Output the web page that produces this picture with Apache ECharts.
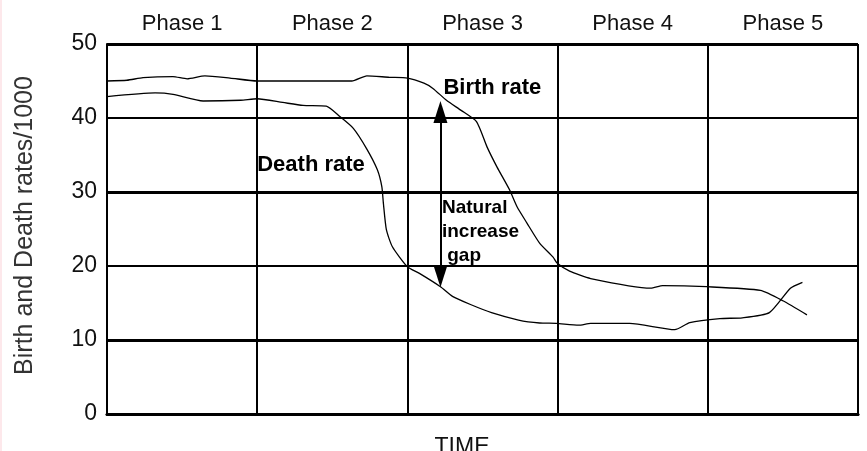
<!DOCTYPE html>
<html>
<head>
<meta charset="utf-8">
<script src="https://cdn.jsdelivr.net/npm/echarts@6/dist/echarts.min.js"></script>
<style>
  html, body { margin: 0; padding: 0; background: linear-gradient(to right, #fde8eb 0, #fde8eb 2px, #ffffff 2px); }
  #chart { width: 867px; height: 451px; }
</style>
</head>
<body>
<div id="chart"></div>
<script>
// Phase labels (top axis)
const phases = ['Phase 1', 'Phase 2', 'Phase 3', 'Phase 4', 'Phase 5'];

// Time position (each phase spans 10 units)
const birthTime = [0, 1.33, 2.4, 4.39, 5.33, 6.52, 8.19, 10.0, 16.3, 17.3, 18.8, 20.0, 21.1, 21.7, 22.6, 23.6, 24.6, 25.3, 25.96, 26.8, 27.3, 27.96, 28.8, 29.7, 29.96, 30.8, 32.2, 36.2, 37.0, 39.9, 43.5, 45.0, 46.6];
const birthRate = [45.0, 45.1, 45.45, 45.6, 45.3, 45.7, 45.4, 45.0, 45.0, 45.7, 45.5, 45.4, 44.7, 44.0, 42.4, 41.0, 39.5, 36.1, 33.4, 30.3, 28.0, 25.8, 23.1, 21.2, 20.4, 19.3, 18.3, 17.0, 17.35, 17.2, 16.7, 15.3, 13.4];

const deathTime = [0, 3.2, 4.4, 6.4, 8.9, 10.0, 11.7, 13.05, 14.6, 15.5, 16.4, 17.3, 18.0, 18.3, 18.4, 18.6, 19.0, 20.0, 20.8, 22.2, 23.0, 24.2, 25.6, 27.4, 28.8, 29.9, 31.4, 32.2, 34.8, 37.8, 38.8, 40.8, 42.3, 44.1, 45.5, 46.3];
const deathRate = [42.9, 43.4, 43.2, 42.3, 42.4, 42.6, 42.1, 41.7, 41.6, 40.2, 38.6, 35.8, 33.0, 30.7, 28.5, 24.9, 22.6, 19.9, 19.0, 17.2, 15.9, 14.8, 13.7, 12.7, 12.3, 12.25, 12.0, 12.25, 12.25, 11.4, 12.35, 12.9, 13.0, 13.7, 17.0, 17.8];

// Emphasised horizontal grid lines
const heavyLines = [10, 30, 50];

// Natural increase arrow (time, rate at both shaft ends)
const arrowTime = 22.2;
const arrowRates = [40.8, 18.6];

const chart = echarts.init(document.getElementById('chart'), null, { renderer: 'canvas' });
const font = 'Liberation Sans, Arial, sans-serif';

const option = {
  animation: false,
  backgroundColor: 'transparent',
  grid: { left: 107, right: 9, top: 44, bottom: 37, containLabel: false, outerBoundsMode: 'none' },
  xAxis: [
    {
      type: 'value', min: 0, max: 50, interval: 10, position: 'bottom',
      axisLine: { show: true, onZero: false, lineStyle: { color: '#000', width: 2.5 } },
      axisTick: { show: false },
      axisLabel: { show: false },
      splitLine: { show: true, lineStyle: { color: '#000', width: 2 } },
      name: 'TIME', nameLocation: 'middle', nameGap: 22,
      nameTextStyle: { fontFamily: font, fontSize: 23, color: '#111', padding: [0, 41, 0, 0] }
    },
    {
      type: 'category', position: 'top', data: phases, boundaryGap: true,
      axisLine: { show: true, lineStyle: { color: '#000', width: 3 } },
      axisTick: { show: true, interval: 0, length: 19, lineStyle: { color: '#000', width: 2 } },
      axisLabel: { interval: 0, margin: 9, fontFamily: font, fontSize: 22, color: '#111' },
      splitLine: { show: false }
    }
  ],
  yAxis: {
    type: 'value', min: 0, max: 50, interval: 10,
    axisLine: { show: true, lineStyle: { color: '#000', width: 2 } },
    axisTick: { show: false },
    axisLabel: { margin: 10, fontFamily: font, fontSize: 23, color: '#111' },
    splitLine: { show: true, lineStyle: { color: '#000', width: 2 } },
    name: 'Birth and Death rates/1000', nameLocation: 'middle', nameRotate: 90, nameGap: 69,
    nameTextStyle: { fontFamily: font, fontSize: 25, color: '#333', padding: [0, 0, 0, 7] }
  },
  series: [
    {
      name: 'Birth rate', type: 'line', xAxisIndex: 0,
      data: birthTime.map((t, i) => [t, birthRate[i]]),
      showSymbol: false, smooth: 0.2,
      lineStyle: { color: '#000', width: 1.3 },
      markLine: {
        silent: true, symbol: 'none', label: { show: false },
        lineStyle: { color: '#000', width: 3, type: 'solid' },
        data: heavyLines.map(v => ({ yAxis: v }))
      },
      markPoint: {
        silent: true, symbol: 'circle', symbolSize: 0,
        label: { show: true, position: 'right', distance: 0, fontFamily: font, fontWeight: 'bold', fontSize: 22, color: '#000' },
        data: [
          { coord: [22.4, 44.1], label: { formatter: 'Birth rate' } },
          { coord: [10.0, 33.7], label: { formatter: 'Death rate' } }
        ]
      }
    },
    {
      name: 'Death rate', type: 'line', xAxisIndex: 0,
      data: deathTime.map((t, i) => [t, deathRate[i]]),
      showSymbol: false, smooth: 0.2,
      lineStyle: { color: '#000', width: 1.3 },
      markLine: {
        silent: true, symbol: ['triangle', 'triangle'], symbolSize: [14, 22],
        label: { show: false },
        lineStyle: { color: '#000', width: 2, type: 'solid' },
        itemStyle: { color: '#000' },
        data: [[{ coord: [arrowTime, arrowRates[0]] }, { coord: [arrowTime, arrowRates[1]] }]]
      },
      markPoint: {
        silent: true, symbol: 'circle', symbolSize: 0,
        label: { show: true, position: 'right', distance: 0, fontFamily: font, fontWeight: 'bold', fontSize: 19, lineHeight: 24, color: '#000' },
        data: [
          { coord: [22.3, 24.6], label: { formatter: 'Natural\nincrease\n gap' } }
        ]
      }
    }
  ]
};
chart.setOption(option);
</script>
</body>
</html>
